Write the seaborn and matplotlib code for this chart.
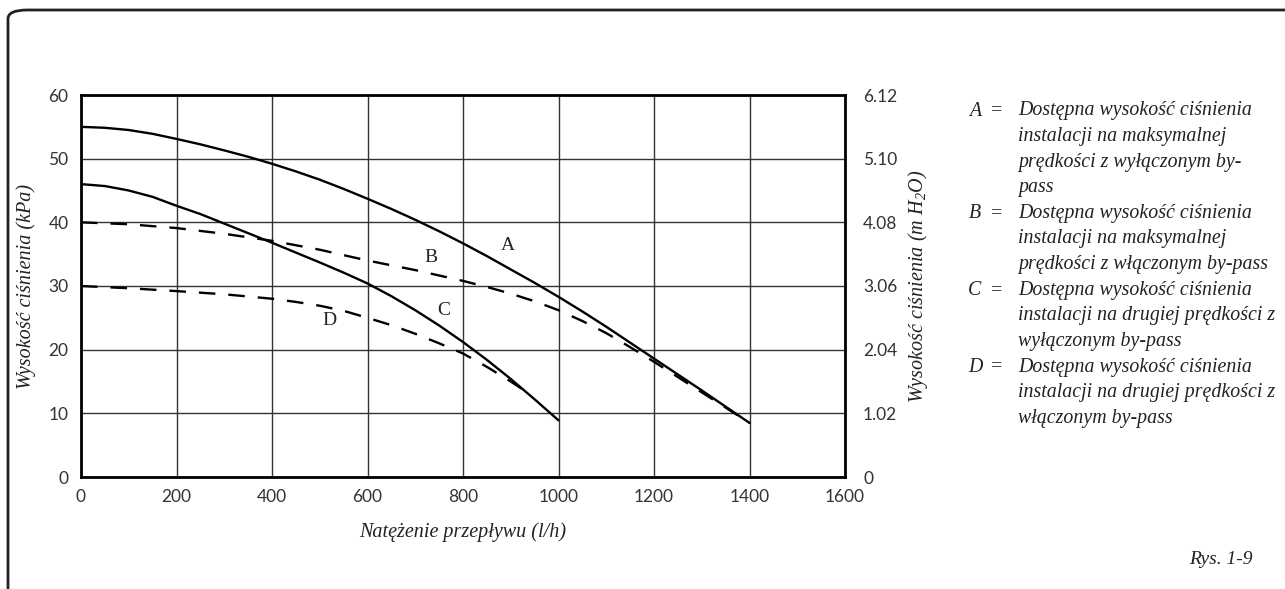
import numpy as np
import pandas as pd
import matplotlib
matplotlib.use('Agg')
import matplotlib.pyplot as plt
from matplotlib.patches import FancyBboxPatch
import seaborn as sns

# flow (l/h) and available head (kPa)
flow_A = [0, 50, 100, 150, 200, 250, 300, 350, 400, 450, 500, 550, 600, 650, 700,
          750, 800, 850, 900, 950, 1000, 1050, 1100, 1150, 1200, 1250, 1300, 1350, 1400]
head_A = [55, 54.85, 54.5, 53.9, 53.1, 52.25, 51.3, 50.3, 49.2, 48.0, 46.7, 45.25, 43.7, 42.1, 40.4,
          38.6, 36.7, 34.7, 32.6, 30.5, 28.3, 26.0, 23.6, 21.1, 18.6, 16.1, 13.6, 11.05, 8.5]
flow_B = [0, 100, 200, 300, 400, 500, 600, 700, 800, 850, 900, 950, 1000, 1050, 1100,
          1150, 1200, 1250, 1300, 1350, 1400]
head_B = [40, 39.7, 39.1, 38.2, 37.1, 35.7, 34.0, 32.5, 30.8, 29.85, 28.8, 27.6, 26.2, 24.5, 22.6,
          20.4, 18.1, 15.7, 13.3, 10.9, 8.5]
flow_C = [0, 50, 100, 150, 200, 250, 300, 350, 400, 450, 500, 550, 600, 650, 700,
          750, 800, 850, 900, 950, 1000]
head_C = [46, 45.7, 45.0, 44.0, 42.6, 41.3, 39.8, 38.3, 36.8, 35.25, 33.7, 32.1, 30.4, 28.4, 26.2,
          23.8, 21.2, 18.4, 15.4, 12.2, 8.9]
flow_D = [0, 100, 200, 300, 400, 450, 500, 550, 600, 650, 700, 750, 800, 850, 900, 940]
head_D = [30, 29.65, 29.2, 28.7, 28.0, 27.5, 26.9, 26.1, 25.0, 23.85, 22.5, 21.0, 19.4, 17.3, 15.0, 13.0]

x_ticks = [0, 200, 400, 600, 800, 1000, 1200, 1400, 1600]
y_ticks = [0, 10, 20, 30, 40, 50, 60]
y2_ticks = ['0', '1.02', '2.04', '3.06', '4.08', '5.10', '6.12']

curve_labels = {'A': (894, 36.3), 'B': (733, 34.4), 'C': (760, 26.1), 'D': (521, 24.6)}

legend_keys = ['A', 'B', 'C', 'D']
legend_text = [
    ['Dostępna wysokość ciśnienia', 'instalacji na maksymalnej',
     'prędkości z wyłączonym by-', 'pass'],
    ['Dostępna wysokość ciśnienia', 'instalacji na maksymalnej',
     'prędkości z włączonym by-pass'],
    ['Dostępna wysokość ciśnienia', 'instalacji na drugiej prędkości z',
     'wyłączonym by-pass'],
    ['Dostępna wysokość ciśnienia', 'instalacji na drugiej prędkości z',
     'włączonym by-pass'],
]

df = pd.concat([
    pd.DataFrame({'flow': flow_A, 'head': head_A, 'curve': 'A'}),
    pd.DataFrame({'flow': flow_B, 'head': head_B, 'curve': 'B'}),
    pd.DataFrame({'flow': flow_C, 'head': head_C, 'curve': 'C'}),
    pd.DataFrame({'flow': flow_D, 'head': head_D, 'curve': 'D'}),
])

sns.set_style('white')
plt.rcParams['font.family'] = ['Lato', 'DejaVu Sans']
plt.rcParams['mathtext.fontset'] = 'custom'
plt.rcParams['mathtext.rm'] = 'Liberation Serif:italic'
plt.rcParams['mathtext.it'] = 'Liberation Serif:italic'
serif = ['Liberation Serif', 'DejaVu Serif']
ink = '#222222'

fig = plt.figure(figsize=(12.85, 5.89), dpi=100)
ax = fig.add_axes([81 / 1285, 1 - 477 / 589, 764 / 1285, 382 / 589])

sns.lineplot(data=df, x='flow', y='head', style='curve', color='black',
             dashes={'A': '', 'B': (7, 5.5), 'C': '', 'D': (7, 5.5)},
             linewidth=1.7, sort=False, estimator=None, legend=False, ax=ax)

ax.set_xlim(0, 1600)
ax.set_ylim(0, 60)
ax.set_xticks(x_ticks)
ax.set_yticks(y_ticks)
ax.grid(True, color='#333333', linewidth=1.0)
ax.set_axisbelow(True)
for s in ax.spines.values():
    s.set_color('black')
    s.set_linewidth(2)
ax.tick_params(length=0, labelsize=12.5, colors='#333333', pad=9)

ax.set_xlabel('Natężenie przepływu (l/h)', family=serif, style='italic',
              fontsize=14.5, color=ink, labelpad=12)
ax.set_ylabel('Wysokość ciśnienia (kPa)', family=serif, style='italic',
              fontsize=14.5, color=ink, labelpad=9)

ax2 = ax.twinx()
ax2.set_ylim(0, 60)
ax2.set_yticks(y_ticks)
ax2.set_yticklabels(y2_ticks)
ax2.tick_params(length=0, labelsize=12.5, colors='#333333', pad=13)
for s in ax2.spines.values():
    s.set_visible(False)
ax2.set_ylabel('Wysokość ciśnienia (m H$_2$O)', family=serif, style='italic',
               fontsize=14.5, color=ink, labelpad=6)

for k, (cx, cy) in curve_labels.items():
    ax.text(cx, cy, k, family=serif, fontsize=14, color=ink,
            ha='center', va='center')

# legend block on the right
y = 111
for key, lines in zip(legend_keys, legend_text):
    fig.text(975 / 1285, 1 - y / 589, key, family=serif, style='italic',
             fontsize=14.3, color=ink, ha='center', va='center')
    fig.text(997 / 1285, 1 - y / 589, '=', family=serif, fontsize=14.3,
             color=ink, ha='center', va='center')
    for ln in lines:
        fig.text(1018 / 1285, 1 - y / 589, ln, family=serif, style='italic',
                 fontsize=14.3, color=ink, ha='left', va='center')
        y += 25.6

fig.text(1253 / 1285, 1 - 560 / 589, 'Rys. 1-9', family=serif, style='italic',
         fontsize=14, color=ink, ha='right', va='center')

# rounded frame around the figure
frame = FancyBboxPatch((8 / 1285, -0.05), 1.1, 1 - 10 / 589 + 0.05,
                       boxstyle='round,pad=0,rounding_size=0.015',
                       transform=fig.transFigure, fill=False,
                       edgecolor=ink, linewidth=2, clip_on=False)
fig.patches.append(frame)

fig.savefig('out.png', dpi=100)
